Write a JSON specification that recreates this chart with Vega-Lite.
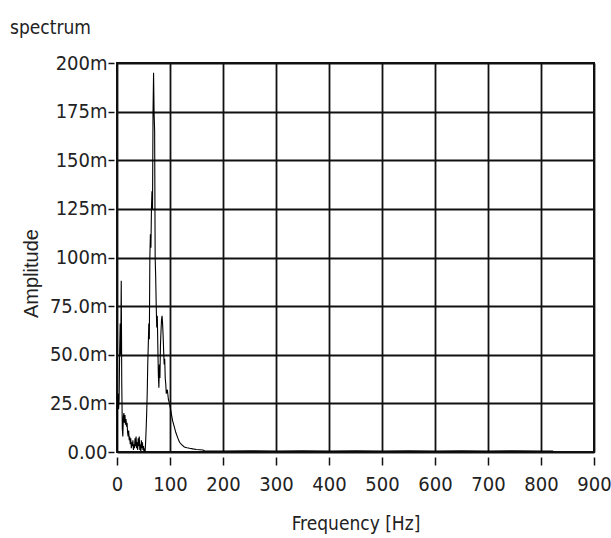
{
  "$schema": "https://vega.github.io/schema/vega-lite/v6.json",
  "autosize": "none",
  "padding": {"left": 117, "top": 63, "right": 17, "bottom": 86},
  "width": 477,
  "height": 389,
  "background": "white",
  "title": {
    "text": "spectrum",
    "anchor": "start",
    "frame": "group",
    "dx": -107,
    "dy": -11,
    "fontSize": 19,
    "font": "DejaVu Sans Condensed, sans-serif",
    "fontWeight": "normal",
    "color": "#222"
  },
  "config": {
    "view": {"stroke": "#111", "strokeWidth": 2},
    "axis": {
      "labelFont": "DejaVu Sans Condensed, sans-serif",
      "titleFont": "DejaVu Sans Condensed, sans-serif",
      "labelColor": "#222",
      "titleColor": "#222",
      "labelFontSize": 20,
      "titleFontSize": 19,
      "titleFontWeight": "normal",
      "domain": false,
      "tickColor": "#111",
      "tickWidth": 1.5,
      "gridColor": "#111",
      "gridWidth": 1.8,
      "gridOpacity": 1
    }
  },
  "data": {
    "values": [
      {"f": 0, "a": 0.000}, {"f": 1, "a": 0.028}, {"f": 2, "a": 0.030}, {"f": 3, "a": 0.022},
      {"f": 4, "a": 0.027}, {"f": 5, "a": 0.052}, {"f": 6, "a": 0.066}, {"f": 7, "a": 0.050},
      {"f": 8, "a": 0.088}, {"f": 9, "a": 0.035}, {"f": 10, "a": 0.012}, {"f": 11, "a": 0.008},
      {"f": 12, "a": 0.018}, {"f": 13, "a": 0.020}, {"f": 14, "a": 0.015}, {"f": 15, "a": 0.019},
      {"f": 16, "a": 0.014}, {"f": 17, "a": 0.017}, {"f": 18, "a": 0.013}, {"f": 19, "a": 0.015},
      {"f": 20, "a": 0.010}, {"f": 21, "a": 0.008}, {"f": 22, "a": 0.011}, {"f": 23, "a": 0.006},
      {"f": 24, "a": 0.008}, {"f": 25, "a": 0.004}, {"f": 26, "a": 0.007}, {"f": 27, "a": 0.002},
      {"f": 28, "a": 0.005}, {"f": 29, "a": 0.003}, {"f": 30, "a": 0.006}, {"f": 31, "a": 0.001},
      {"f": 32, "a": 0.004}, {"f": 33, "a": 0.002}, {"f": 34, "a": 0.007}, {"f": 35, "a": 0.003},
      {"f": 36, "a": 0.008}, {"f": 37, "a": 0.002}, {"f": 38, "a": 0.005}, {"f": 39, "a": 0.001},
      {"f": 40, "a": 0.007}, {"f": 41, "a": 0.003}, {"f": 42, "a": 0.008}, {"f": 43, "a": 0.001},
      {"f": 44, "a": 0.004}, {"f": 45, "a": 0.000}, {"f": 46, "a": 0.006}, {"f": 47, "a": 0.002},
      {"f": 48, "a": 0.005}, {"f": 49, "a": 0.001}, {"f": 50, "a": 0.003}, {"f": 51, "a": 0.000},
      {"f": 52, "a": 0.001}, {"f": 53, "a": 0.000}, {"f": 54, "a": 0.005}, {"f": 55, "a": 0.012},
      {"f": 56, "a": 0.020}, {"f": 57, "a": 0.030}, {"f": 58, "a": 0.045}, {"f": 59, "a": 0.055},
      {"f": 60, "a": 0.066}, {"f": 61, "a": 0.058}, {"f": 62, "a": 0.100}, {"f": 63, "a": 0.112},
      {"f": 64, "a": 0.105}, {"f": 65, "a": 0.125}, {"f": 66, "a": 0.134}, {"f": 67, "a": 0.125},
      {"f": 68, "a": 0.175}, {"f": 69, "a": 0.195}, {"f": 70, "a": 0.174}, {"f": 71, "a": 0.165},
      {"f": 72, "a": 0.100}, {"f": 73, "a": 0.090}, {"f": 74, "a": 0.075}, {"f": 75, "a": 0.064},
      {"f": 76, "a": 0.070}, {"f": 77, "a": 0.055}, {"f": 78, "a": 0.040}, {"f": 79, "a": 0.033},
      {"f": 80, "a": 0.045}, {"f": 81, "a": 0.038}, {"f": 82, "a": 0.055}, {"f": 83, "a": 0.062},
      {"f": 84, "a": 0.068}, {"f": 85, "a": 0.070}, {"f": 86, "a": 0.066}, {"f": 87, "a": 0.060},
      {"f": 88, "a": 0.052}, {"f": 89, "a": 0.045}, {"f": 90, "a": 0.048}, {"f": 91, "a": 0.038},
      {"f": 92, "a": 0.035}, {"f": 93, "a": 0.030}, {"f": 95, "a": 0.032}, {"f": 97, "a": 0.027},
      {"f": 99, "a": 0.025}, {"f": 101, "a": 0.022}, {"f": 103, "a": 0.019}, {"f": 105, "a": 0.016},
      {"f": 108, "a": 0.013}, {"f": 111, "a": 0.010}, {"f": 115, "a": 0.007}, {"f": 118, "a": 0.005},
      {"f": 122, "a": 0.0038}, {"f": 127, "a": 0.0026}, {"f": 132, "a": 0.0022}, {"f": 137, "a": 0.0019},
      {"f": 143, "a": 0.0016}, {"f": 150, "a": 0.0013}, {"f": 162, "a": 0.0010}, {"f": 165, "a": 0.0006},
      {"f": 200, "a": 0.0005}, {"f": 250, "a": 0.0006}, {"f": 300, "a": 0.0005}, {"f": 350, "a": 0.0006},
      {"f": 400, "a": 0.0005}, {"f": 450, "a": 0.0006}, {"f": 500, "a": 0.0005}, {"f": 550, "a": 0.0006},
      {"f": 600, "a": 0.0005}, {"f": 650, "a": 0.0006}, {"f": 700, "a": 0.0005}, {"f": 750, "a": 0.0006},
      {"f": 800, "a": 0.0005}, {"f": 823, "a": 0.0005}
    ]
  },
  "mark": {"type": "line", "color": "#000", "strokeWidth": 1.1, "clip": true},
  "encoding": {
    "x": {
      "field": "f",
      "type": "quantitative",
      "scale": {"domain": [0, 900], "nice": false, "zero": false},
      "axis": {
        "title": "Frequency [Hz]",
        "values": [0, 100, 200, 300, 400, 500, 600, 700, 800, 900],
        "offset": 5,
        "tickSize": 8,
        "labelPadding": 9,
        "titlePadding": 20,
        "labelFlush": false
      }
    },
    "y": {
      "field": "a",
      "type": "quantitative",
      "scale": {"domain": [0, 0.2], "nice": false},
      "axis": {
        "title": "Amplitude",
        "titleFont": "Liberation Sans, DejaVu Sans, sans-serif",
        "titleFontSize": 20,
        "titleX": -73,
        "titleY": 210,
        "values": [0, 0.025, 0.05, 0.075, 0.1, 0.125, 0.15, 0.175, 0.2],
        "format": ".3s",
        "offset": 3,
        "tickSize": 6,
        "labelPadding": 1,
        "labelFlush": false
      }
    }
  }
}
